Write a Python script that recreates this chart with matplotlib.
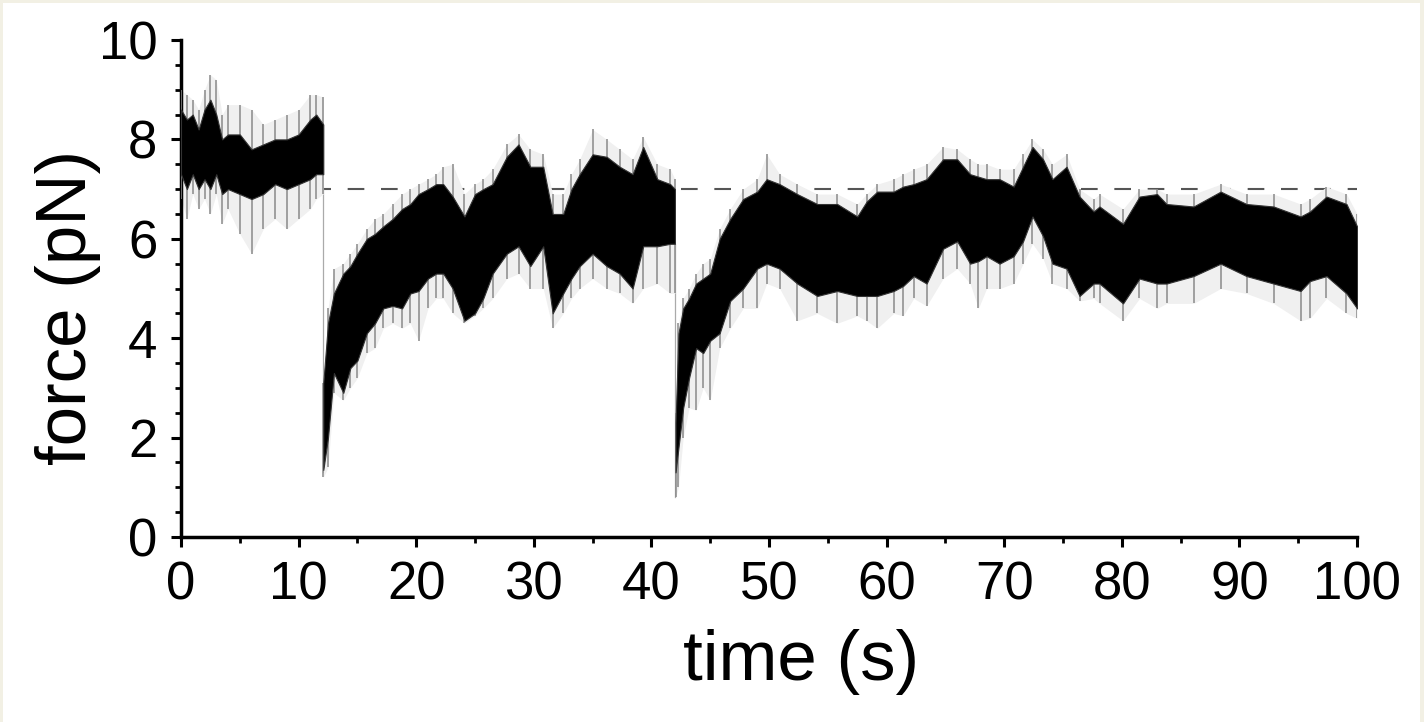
import numpy as np
import matplotlib.pyplot as plt
from matplotlib.patches import Rectangle

plt.rcParams['font.family'] = ['Liberation Sans', 'DejaVu Sans']

# --- trace envelopes (time in s, force in pN) ---
# segment 1: before first release
t1 = [0.0, 0.5, 1.0, 1.5, 2.0, 2.5, 3.0, 3.5, 4.0, 5.0, 6.0, 7.0, 8.0, 9.0, 10.0, 11.0, 11.5, 12.1]
core_lo1 = [7.3, 7.0, 7.3, 7.0, 7.2, 7.0, 7.3, 6.9, 7.0, 6.9, 6.8, 6.9, 7.1, 7.0, 7.1, 7.2, 7.3, 7.3]
core_hi1 = [8.6, 8.4, 8.5, 8.2, 8.6, 8.8, 8.5, 8.0, 8.1, 8.1, 7.8, 7.9, 8.0, 8.0, 8.1, 8.4, 8.5, 8.3]
peak_lo1 = [6.8, 6.4, 6.9, 6.6, 6.8, 6.5, 6.9, 6.3, 6.6, 6.1, 5.7, 6.2, 6.4, 6.2, 6.4, 6.6, 6.8, 6.9]
peak_hi1 = [9.0, 8.9, 8.8, 8.6, 9.0, 9.3, 9.2, 8.5, 8.7, 8.7, 8.6, 8.3, 8.4, 8.5, 8.6, 8.9, 8.9, 8.85]

# segment 2: recovery after first drop
t2 = [12.1, 12.5, 13.0, 13.8, 14.4, 15.0, 15.8, 16.5, 17.2, 18.0, 18.8, 19.5, 20.2, 21.0,
      21.7, 22.3, 23.1, 24.1, 25.0, 25.7, 26.5, 27.7, 28.7, 29.7, 30.8, 31.6, 32.5, 33.2,
      33.9, 35.0, 36.2, 37.3, 38.4, 39.3, 40.5, 41.6, 42.0]
core_lo2 = [1.35, 2.0, 3.3, 2.9, 3.4, 3.55, 4.1, 4.3, 4.6, 4.65, 4.6, 4.9, 4.95, 5.2,
            5.3, 5.3, 5.0, 4.35, 4.5, 4.8, 5.3, 5.7, 5.85, 5.45, 5.85, 4.5, 4.9, 5.2,
            5.45, 5.7, 5.45, 5.3, 5.0, 5.85, 5.85, 5.9, 5.9]
core_hi2 = [3.1, 4.3, 4.9, 5.3, 5.45, 5.7, 6.0, 6.1, 6.25, 6.4, 6.6, 6.7, 6.9, 7.0,
            7.1, 7.1, 6.85, 6.45, 6.9, 7.0, 7.1, 7.65, 7.9, 7.45, 7.45, 6.5, 6.5, 7.0,
            7.3, 7.7, 7.65, 7.45, 7.3, 7.85, 7.2, 7.1, 7.0]
peak_lo2 = [1.2, 1.4, 2.9, 2.75, 3.0, 3.2, 3.7, 3.8, 4.2, 4.3, 4.2, 4.3, 3.95, 4.6,
            4.8, 4.8, 4.5, 4.3, 4.45, 4.6, 4.8, 5.2, 5.3, 5.0, 5.0, 4.2, 4.5, 4.8,
            5.0, 5.2, 5.0, 4.9, 4.7, 5.0, 5.1, 4.9, 4.9]
peak_hi2 = [3.1, 4.6, 5.4, 5.5, 5.7, 5.9, 6.2, 6.4, 6.5, 6.7, 6.9, 7.0, 7.1, 7.2,
            7.3, 7.45, 7.5, 6.9, 7.1, 7.2, 7.4, 7.9, 8.1, 7.8, 7.7, 6.9, 6.9, 7.3,
            7.6, 8.2, 8.0, 7.8, 7.6, 8.05, 7.5, 7.4, 7.2]

# segment 3: recovery after second drop
t3 = [42.05, 42.3, 42.7, 43.2, 43.8, 44.4, 45.0, 45.8, 46.7, 47.8, 49.0, 49.8, 50.9, 52.4,
      54.1, 55.8, 57.5, 58.3, 59.2, 60.6, 61.4, 62.3, 63.4, 64.8, 66.0, 67.1, 67.8, 68.5,
      69.6, 70.8, 71.6, 72.4, 73.3, 74.1, 75.3, 76.4, 77.6, 78.1, 80.1, 81.5, 83.0, 83.8,
      86.1, 88.4, 90.6, 92.9, 95.2, 96.0, 97.4, 99.1, 100.0]
core_lo3 = [1.3, 1.8, 2.6, 3.2, 3.8, 3.7, 3.95, 4.1, 4.75, 5.0, 5.4, 5.5, 5.4, 5.1,
            4.85, 4.95, 4.85, 4.85, 4.85, 4.95, 5.05, 5.25, 5.1, 5.8, 5.95, 5.5, 5.55, 5.65,
            5.5, 5.65, 5.95, 6.45, 6.05, 5.5, 5.4, 4.85, 5.1, 5.1, 4.7, 5.2, 5.1, 5.1,
            5.25, 5.5, 5.25, 5.1, 4.95, 5.15, 5.25, 4.9, 4.6]
core_hi3 = [2.3, 4.1, 4.6, 4.8, 5.1, 5.2, 5.3, 6.0, 6.4, 6.8, 6.95, 7.2, 7.1, 6.9,
            6.7, 6.7, 6.45, 6.75, 6.95, 6.95, 7.05, 7.1, 7.2, 7.6, 7.6, 7.3, 7.25, 7.2,
            7.2, 7.05, 7.45, 7.85, 7.6, 7.2, 7.45, 6.85, 6.55, 6.65, 6.3, 6.85, 6.9, 6.7,
            6.65, 6.95, 6.7, 6.65, 6.45, 6.55, 6.85, 6.7, 6.25]
peak_lo3 = [0.8, 1.0, 2.0, 2.6, 2.55, 3.0, 2.75, 3.8, 4.2, 4.6, 4.6, 5.1, 5.0, 4.35,
            4.5, 4.3, 4.45, 4.35, 4.2, 4.5, 4.45, 4.8, 4.65, 5.2, 5.4, 5.1, 4.6, 5.0,
            5.0, 5.1, 5.5, 5.9, 5.6, 5.1, 5.0, 4.75, 4.8, 4.7, 4.35, 4.8, 4.6, 4.7,
            4.7, 5.0, 4.9, 4.7, 4.35, 4.4, 4.8, 4.5, 4.4]
peak_hi3 = [2.5, 4.3, 4.8, 5.0, 5.3, 5.5, 5.6, 6.2, 6.6, 7.0, 7.2, 7.7, 7.3, 7.1,
            6.9, 6.9, 6.7, 6.9, 7.1, 7.2, 7.3, 7.4, 7.5, 7.85, 7.8, 7.6, 7.5, 7.5,
            7.4, 7.4, 7.7, 8.0, 7.8, 7.5, 7.7, 7.0, 6.8, 6.9, 6.6, 7.0, 7.0, 6.9,
            6.9, 7.1, 6.9, 6.9, 6.7, 6.8, 7.05, 6.9, 6.5]

# thin jumps between segments (t, from, to)
jumps = [(12.1, 7.0, 1.3), (42.0, 5.9, 0.8)]
set_force = 7.0

segments = [
    (t1, core_lo1, core_hi1, peak_lo1, peak_hi1),
    (t2, core_lo2, core_hi2, peak_lo2, peak_hi2),
    (t3, core_lo3, core_hi3, peak_lo3, peak_hi3),
]

fig = plt.figure(figsize=(14.24, 7.22), dpi=100)
fig.patch.set_facecolor('#f2f0e4')
fig.patches.append(Rectangle((3 / 1424, 0), 1 - 7 / 1424, 1 - 3 / 722,
                             transform=fig.transFigure, facecolor='white',
                             edgecolor='none', zorder=-1))

ax = fig.add_axes([0.1271, 0.2562, 0.8259, 0.6884])
ax.patch.set_alpha(0)

ax.axhline(set_force, color='#555555', lw=1.5, ls=(0, (8, 8)), zorder=1)

for tj, f0, f1 in jumps:
    ax.plot([tj, tj], [f0, f1], color='#aaaaaa', lw=0.9, zorder=2)

for t, clo, chi, plo, phi in segments:
    # faint noise spikes, then the dense black core
    ax.fill_between(t, plo, phi, color='#f0f0f0', lw=0, zorder=2)
    ax.vlines(t, plo, phi, color='#8a8a8a', lw=1.1, zorder=3)
    ax.fill_between(t, clo, chi, color='black', lw=0.8, edgecolor='#333333', zorder=4)

ax.set_xlim(0, 100)
ax.set_ylim(0, 10)
ax.set_xticks(np.arange(0, 101, 10))
ax.set_xticks(np.arange(0, 101, 5), minor=True)
ax.set_yticks(np.arange(0, 11, 2))
ax.set_yticks(np.arange(0, 10.1, 0.5), minor=True)

for side in ['top', 'right']:
    ax.spines[side].set_visible(False)
for side in ['left', 'bottom']:
    ax.spines[side].set_linewidth(2.5)

ax.tick_params(which='major', direction='out', length=7, width=2.2, labelsize=38, pad=10)
ax.tick_params(which='minor', direction='out', length=4.5, width=2.0)

ax.set_xlabel('time (s)', fontsize=51)
ax.set_ylabel('force (pN)', fontsize=51)
ax.xaxis.set_label_coords(0.527, -0.185)
ax.yaxis.set_label_coords(-0.068, 0.461)

fig.savefig('out.png', dpi=100, facecolor=fig.get_facecolor())
